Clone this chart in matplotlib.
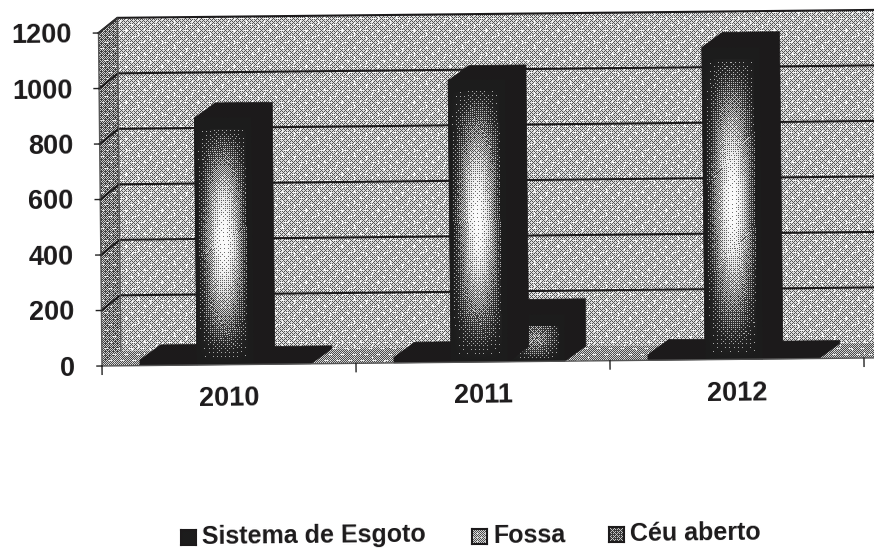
import numpy as np
import matplotlib
matplotlib.use('Agg')
import matplotlib.pyplot as plt
from matplotlib.patches import Polygon
from matplotlib.transforms import Affine2D

anos = ['2010', '2011', '2012']
series = ['Sistema de Esgoto', 'Fossa', 'Céu aberto']
sistema = [20, 20, 20]
fossa = [890, 1015, 1125]
ceu = [10, 170, 10]
yticks = [0, 200, 400, 600, 800, 1000, 1200]

plt.rcParams['font.family'] = ['Liberation Sans', 'DejaVu Sans']
W, H = 874, 550
fig = plt.figure(figsize=(W / 100, H / 100), dpi=100)
# front plane of the chart, in pixels: x 102..864, y 33..366
ax = fig.add_axes([102 / W, (H - 366) / H, 762 / W, 333 / H])
ax.set_xlim(0, 3)
ax.set_ylim(0, 1200)
ax.axis('off')

# scan is tilted a little
rot = ax.transData + Affine2D().rotate_deg_around(102, H - 366, 0.6)
DX = 19 / 254.0
DY = 54.0
BDX = 21 / 254.0
XEND = 3.2
DARK = '#1c1a1b'
INK = 0.11


def bayer():
    m = np.array([[0]])
    for i in range(3):
        m = np.block([[4 * m, 4 * m + 2], [4 * m + 3, 4 * m + 1]])
    return (m + 0.5) / 64.0


def halftone(gray):
    b = bayer()
    h, w = gray.shape
    t = np.tile(b, (h // 8 + 1, w // 8 + 1))[:h, :w]
    d = (gray > t).astype(float)
    return INK + (1 - INK) * (0.6 * d + 0.4 * gray)


def paper(level):
    # maze-like print screen, whole figure in pixels
    yy, xx = np.mgrid[0:H, 0:W]
    g = np.full((H, W), level)
    g = g + 0.28 * (((xx // 4 + yy // 6) % 3 == 0) & (yy % 6 == 0))
    g = g + 0.28 * (((yy // 4 + xx // 6) % 3 == 1) & (xx % 6 == 0))
    return halftone(np.clip(g, 0, 1))


def textured(points, level, z):
    poly = Polygon(points, closed=True, transform=rot, fc='none', ec='none')
    ax.add_patch(poly)
    im = ax.imshow(paper(level), cmap='gray', vmin=0, vmax=1, extent=(0, 1, 0, 1),
                   transform=fig.transFigure, interpolation='nearest', aspect='auto', zorder=z)
    im.set_clip_box(fig.bbox)
    im.set_clip_path(poly)


textured([(DX, DY), (XEND, DY), (XEND, 1200 + DY), (DX, 1200 + DY)], 0.62, 1)
textured([(0, 0), (DX, DY), (DX, 1200 + DY), (0, 1200)], 0.42, 1)
textured([(0, 0), (XEND, 0), (XEND + DX, DY), (DX, DY)], 0.5, 1)

# gridlines
for v in yticks[1:]:
    ax.plot([0, DX, XEND], [v, v + DY, v + DY], color=DARK, lw=1.5, transform=rot,
            clip_on=False, zorder=2, solid_joinstyle='miter')
ax.plot([DX, DX], [DY, 1200 + DY], color='#555555', lw=1, transform=rot, zorder=2, clip_on=False)
ax.plot([0, DX], [1200, 1200 + DY], color='#333333', lw=1, transform=rot, zorder=2, clip_on=False)
ax.plot([0, 0], [0, 1200], color='#555555', lw=1, transform=rot, zorder=2, clip_on=False)

bw = 57 / 254.0
x0 = 38 / 254.0


def face(x, v, z, peak):
    if v < 60:
        return
    nx = 57
    ny = max(int(v * 0.2775), 2)
    u = np.linspace(0, 1, nx)
    s = np.linspace(0, 1, ny)
    prof_x = np.sin(np.pi * u) ** 1.6
    prof_y = np.sin(np.pi * s) ** 1.3
    gray = peak * np.outer(prof_y, prof_x)
    # the upper band of the face prints solid, the sides too
    gray[s > 1 - 12 / ny] = 0
    gray[:, u > 0.9] = 0
    gray[:, u < 0.05] = 0
    ax.imshow(halftone(gray), cmap='gray', vmin=0, vmax=1, extent=(x, x + bw, 0, v), origin='lower',
              transform=rot, interpolation='nearest', aspect='auto', zorder=z, clip_on=False)


for i in range(len(anos)):
    for k, vals in enumerate([sistema, fossa, ceu]):
        v = vals[i]
        x = i + x0 + k * bw
        z = 5 + k * 0.1 if k != 1 else 5.5
        # shape of the bar: front, top and side all solid
        ax.add_patch(Polygon([(x, 0), (x + bw, 0), (x + bw + BDX, DY), (x + bw + BDX, v + DY),
                              (x + BDX, v + DY), (x, v)], closed=True, fc=DARK, ec=DARK, lw=0.5,
                             transform=rot, zorder=z, clip_on=False))
        face(x, v, z + 0.01, 0.95 if k == 1 else 0.45)

ax.set_xlim(0, 3)
ax.set_ylim(0, 1200)

# axis and ticks
ax.plot([0, 3.1], [0, 0], color='#555555', lw=1, transform=rot, clip_on=False, zorder=6)
for i in range(len(anos) + 1):
    ax.plot([i, i], [0, -30], color='#222222', lw=1, transform=rot, clip_on=False, zorder=6)
for v in yticks:
    ax.plot([-0.02, 0], [v, v], color='#222222', lw=1, transform=rot, clip_on=False, zorder=6)
    ax.text(-0.105, v - 8, str(v), transform=rot, ha='right', va='center', fontsize=19.5,
            fontweight='bold', color=DARK, rotation=0.6, rotation_mode='anchor')
for i, a in enumerate(anos):
    ax.text(i + 0.5, -122, a, transform=rot, ha='center', va='center', fontsize=19.5,
            fontweight='bold', color=DARK, rotation=0.6, rotation_mode='anchor')

# legend, placed by hand like the original
leg_x = [202, 493, 630]
leg_y = [537, 536, 534]
leg_lv = [0.0, 0.55, 0.35]
for name, lx, ly, lv in zip(series, leg_x, leg_y, leg_lv):
    fig.text(lx / W, 1 - ly / H, name, ha='left', va='center', fontsize=18, fontweight='bold',
             color=DARK, rotation=0.6, rotation_mode='anchor')
    sw = fig.add_axes([(lx - 21) / W, 1 - (ly + 8) / H, 15 / W, 15 / H])
    sw.imshow(halftone(np.full((15, 15), lv)), cmap='gray', vmin=0, vmax=1, interpolation='nearest')
    sw.set_xticks([])
    sw.set_yticks([])
    for s in sw.spines.values():
        s.set_color(DARK)
        s.set_linewidth(1.5)

fig.savefig('out.png', dpi=100)
